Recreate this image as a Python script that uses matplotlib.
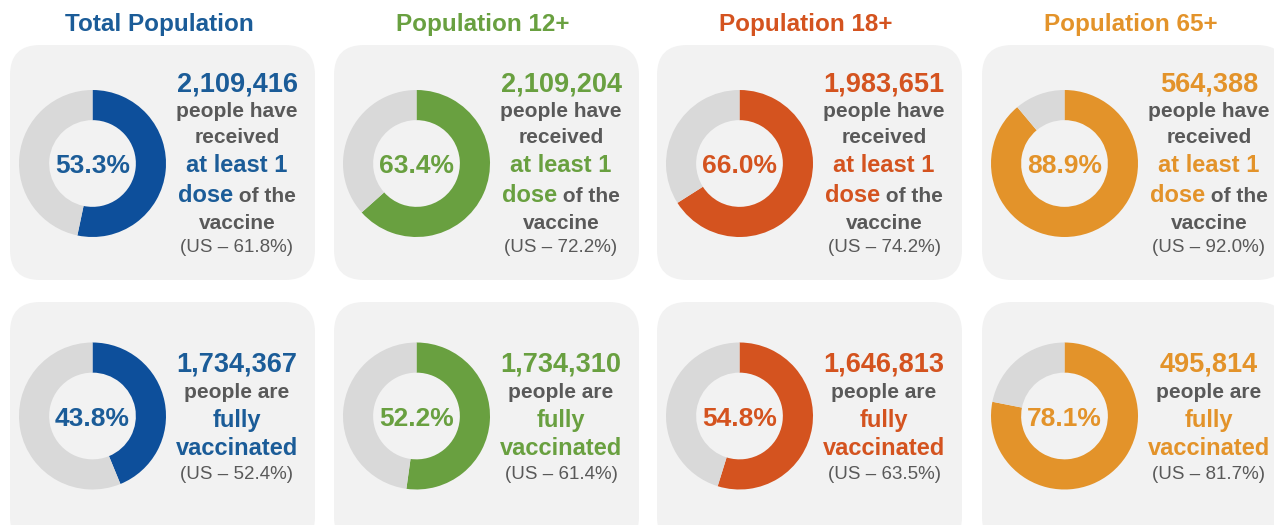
import matplotlib
matplotlib.use('Agg')
import matplotlib.pyplot as plt
from matplotlib.patches import FancyBboxPatch

plt.rcParams['font.family'] = ['Liberation Sans', 'DejaVu Sans']

# ---- data ----
groups = ['Total Population', 'Population 12+', 'Population 18+', 'Population 65+']
colors = ['#0D4F9B', '#69A040', '#D4531F', '#E3932A']
text_colors = ['#1B5C98', '#69A040', '#D4531F', '#E3932A']
dose1_pct = [53.3, 63.4, 66.0, 88.9]
dose1_count = ['2,109,416', '2,109,204', '1,983,651', '564,388']
dose1_us = [61.8, 72.2, 74.2, 92.0]
full_pct = [43.8, 52.2, 54.8, 78.1]
full_count = ['1,734,367', '1,734,310', '1,646,813', '495,814']
full_us = [52.4, 61.4, 63.5, 81.7]

GREY_RING = '#D9D9D9'
PANEL = '#F2F2F2'
DARK = '#595959'

W, H = 1274, 525
fig = plt.figure(figsize=(W / 100, H / 100), dpi=100)
bg = fig.add_axes([0, 0, 1, 1])
bg.set_xlim(0, W)
bg.set_ylim(H, 0)
bg.axis('off')

col_x0 = [10, 334, 657, 982]
panel_w = 305
row_top = [45, 302]
row_h = [235, 245]
donut_cy = [163.5, 416]
R = 73.5

base_top = [92, 117, 143, 172, 202, 229, 252]
base_bot = [372, 398, 427, 455, 479]

fig.canvas.draw()
renderer = fig.canvas.get_renderer()


def text_width(s, size, weight):
    t = bg.text(0, 0, s, fontsize=size, fontweight=weight)
    w = t.get_window_extent(renderer=renderer).width
    t.remove()
    return w


def line(xc, y, parts):
    widths = [text_width(s, sz, wt) for s, sz, col, wt in parts]
    x = xc - sum(widths) / 2
    for (s, sz, col, wt), w in zip(parts, widths):
        bg.text(x, y, s, fontsize=sz, color=col, fontweight=wt,
                ha='left', va='baseline')
        x += w


GT = 15  # grey bold text size
for i, g in enumerate(groups):
    x0 = col_x0[i]
    c = colors[i]
    tc = text_colors[i]
    bg.text(x0 + 149, 31, g, fontsize=17.5, fontweight='bold', color=tc,
            ha='center', va='baseline')
    for r in range(2):
        bg.add_patch(FancyBboxPatch((x0, row_top[r]), panel_w, row_h[r],
                                    boxstyle='round,pad=0,rounding_size=30',
                                    fc=PANEL, ec='none', zorder=0))
        pct = dose1_pct[i] if r == 0 else full_pct[i]
        cx = x0 + 82.5
        cy = donut_cy[r]
        ax = fig.add_axes([(cx - R) / W, 1 - (cy + R) / H, 2 * R / W, 2 * R / H])
        ax.pie([pct, 100 - pct], colors=[c, GREY_RING], startangle=90,
               counterclock=False, radius=1,
               wedgeprops=dict(width=0.41, edgecolor='none'))
        ax.set_xlim(-1, 1)
        ax.set_ylim(-1, 1)
        ax.set_aspect('auto')
        ax.axis('off')
        bg.text(cx, cy + 9.5, f'{pct:.1f}%', fontsize=19, color=tc,
                fontweight='bold', ha='center', va='baseline')

        xt = x0 + 227
        if r == 0:
            b = base_top
            line(xt, b[0], [(dose1_count[i], 19.5, tc, 'bold')])
            line(xt, b[1], [('people have', GT, DARK, 'bold')])
            line(xt, b[2], [('received', GT, DARK, 'bold')])
            line(xt, b[3], [('at least 1', 17, tc, 'bold')])
            line(xt, b[4], [('dose', 17, tc, 'bold'), (' of the', GT, DARK, 'bold')])
            line(xt, b[5], [('vaccine', GT, DARK, 'bold')])
            line(xt, b[6], [(f'(US \u2013 {dose1_us[i]:.1f}%)', 13.5, DARK, 'normal')])
        else:
            b = base_bot
            line(xt, b[0], [(full_count[i], 19.5, tc, 'bold')])
            line(xt, b[1], [('people are', GT, DARK, 'bold')])
            line(xt, b[2], [('fully', 17, tc, 'bold')])
            line(xt, b[3], [('vaccinated', 17, tc, 'bold')])
            line(xt, b[4], [(f'(US \u2013 {full_us[i]:.1f}%)', 13.5, DARK, 'normal')])

fig.savefig('out.png', dpi=100, facecolor='white')
